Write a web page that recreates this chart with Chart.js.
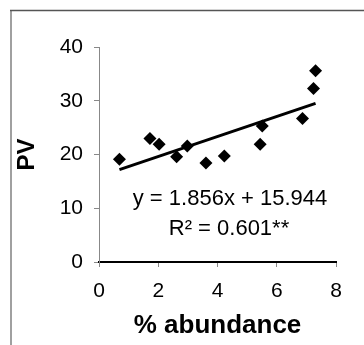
<!DOCTYPE html>
<html>
<head>
<meta charset="utf-8">
<script src="https://cdn.jsdelivr.net/npm/chart.js@4/dist/chart.umd.min.js"></script>
<style>
  body { margin: 0; background: #fff; }
</style>
</head>
<body>
<canvas id="myChart" width="364" height="345"></canvas>
<script>
// values
const abundance = [0.69, 1.72, 2.03, 2.62, 2.98, 3.61, 4.23, 5.44, 5.51, 6.87, 7.24, 7.31];
const pv = [19.1, 23.0, 21.9, 19.6, 21.6, 18.4, 19.7, 21.9, 25.3, 26.7, 32.3, 35.6];
// trend line ends, as drawn
const trendX = [0.69, 7.31];
const trendY = [17.2, 29.5];
const equationLines = ['y = 1.856x + 15.944', 'R\u00b2 = 0.601**'];
const xTitle = '% abundance';
const yTitle = 'PV';

const FONT = "'Liberation Sans', Arial, sans-serif";

const frame = {
  id: 'frame',
  beforeDraw(chart) {
    const c = chart.ctx;
    c.save();
    c.strokeStyle = '#a0a0a0';
    c.lineWidth = 2;
    c.beginPath();
    c.moveTo(11, 10);
    c.lineTo(11, chart.height);
    c.stroke();
    c.strokeStyle = '#555';
    c.lineWidth = 1.5;
    c.beginPath();
    c.moveTo(10, 10.5);
    c.lineTo(chart.width, 10.5);
    c.stroke();
    c.restore();
  }
};

const equation = {
  id: 'equation',
  afterDatasetsDraw(chart) {
    const c = chart.ctx;
    c.save();
    c.fillStyle = '#000';
    c.font = '22px ' + FONT;
    c.textAlign = 'center';
    c.textBaseline = 'middle';
    c.fillText(equationLines[0], 230, 199);
    c.fillText(equationLines[1], 229, 229);
    c.restore();
  }
};

const ctx = document.getElementById('myChart').getContext('2d');
const myChart = new Chart(ctx, {
  type: 'scatter',
  data: {
    datasets: [
      {
        type: 'line',
        data: trendX.map((x, i) => ({x: x, y: trendY[i]})),
        borderColor: '#000',
        borderWidth: 3,
        pointRadius: 0,
        fill: false
      },
      {
        data: abundance.map((x, i) => ({x: x, y: pv[i]})),
        pointStyle: 'rectRot',
        pointRadius: 6.5,
        pointHoverRadius: 6.5,
        backgroundColor: '#000',
        borderColor: '#000',
        borderWidth: 0
      }
    ]
  },
  options: {
    responsive: false,
    animation: false,
    layout: { padding: { top: 47, right: 28, left: 0, bottom: 0 } },
    plugins: { legend: { display: false }, tooltip: { enabled: false } },
    scales: {
      x: {
        type: 'linear',
        min: 0,
        max: 8,
        ticks: { stepSize: 2, color: '#000', padding: 12, font: { family: FONT, size: 21 } },
        grid: { drawOnChartArea: false, drawTicks: true, tickLength: 5, color: '#888' },
        border: { color: '#000', width: 2 },
        title: { display: true, text: xTitle, color: '#000', padding: { top: 0, bottom: 4 },
                 font: { family: FONT, size: 26, weight: 'bold' } },
        afterFit(scale) { scale.height = 83; }
      },
      y: {
        min: 0,
        max: 40,
        ticks: { stepSize: 10, color: '#000', padding: 11, font: { family: FONT, size: 21 } },
        grid: { drawOnChartArea: false, drawTicks: true, tickLength: 5, color: '#888' },
        border: { color: '#888', width: 1 },
        title: { display: true, text: yTitle, color: '#000', padding: { top: 13, bottom: 0 },
                 font: { family: FONT, size: 24, weight: 'bold' } },
        afterFit(scale) { scale.width = 99; }
      }
    }
  },
  plugins: [frame, equation]
});
</script>
</body>
</html>
